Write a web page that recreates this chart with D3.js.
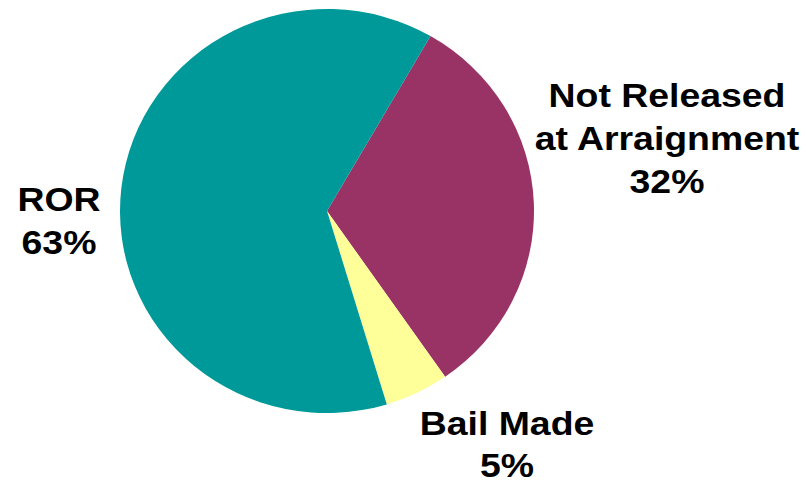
<!DOCTYPE html>
<html>
<head>
<meta charset="utf-8">
<script src="https://cdn.jsdelivr.net/npm/d3@7/dist/d3.min.js"></script>
<style>
  html, body { margin: 0; padding: 0; background: #fff; }
  svg { display: block; }
  text { font-family: "Liberation Sans", Arial, Helvetica, sans-serif; font-weight: bold; fill: #000; }
</style>
</head>
<body>
<svg id="chart" width="807" height="486"></svg>
<script>
// Release status at arraignment (percent of cases)
const categories = ["Not Released at Arraignment", "Bail Made", "ROR"];
const values = [32, 5, 63];
const labelLines = [["Not Released", "at Arraignment", "32%"], ["Bail Made", "5%"], ["ROR", "63%"]];
const colors = ["#993366", "#FFFF99", "#009999"];

const svg = d3.select("#chart");
const cx = 327, cy = 211, rx = 207, ry = 202;

const pie = d3.pie()
  .sort(null)
  .value(d => d)
  .startAngle(Math.PI / 6)
  .endAngle(Math.PI / 6 + 2 * Math.PI);

const arc = d3.arc().innerRadius(0).outerRadius(rx);

const g = svg.append("g")
  .attr("transform", `translate(${cx},${cy}) scale(1,${ry / rx})`);

g.selectAll("path")
  .data(pie(values))
  .join("path")
  .attr("d", arc)
  .attr("fill", (d, i) => colors[i]);

// Label anchor positions (centre x, first baseline y, line gap)
const labelPos = [[667, 106.5, 43.5], [507, 435, 42.5], [59, 211, 43.5]];
const fontSize = 34, stretch = 1.1;

labelLines.forEach((lines, i) => {
  const [lx, ly, gap] = labelPos[i];
  const t = svg.append("g")
    .attr("transform", `translate(${lx},${ly}) scale(${stretch},1)`)
    .append("text")
    .attr("text-anchor", "middle")
    .attr("font-size", fontSize);
  lines.forEach((s, k) => {
    t.append("tspan").attr("x", 0).attr("y", k * gap).text(s);
  });
});
</script>
</body>
</html>
